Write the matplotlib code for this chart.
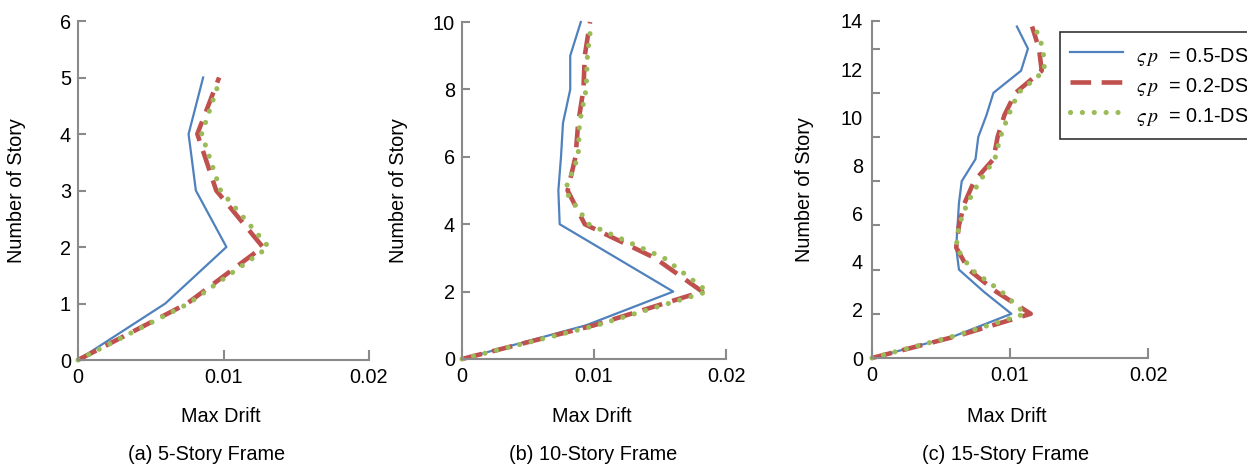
import matplotlib
matplotlib.use('Agg')
import matplotlib.pyplot as plt

# --- dados (deriva máxima por pavimento) ---
pav_5 = [0, 1, 2, 3, 4, 5]
a_05 = [0, 0.0060, 0.0102, 0.0081, 0.0076, 0.0086]
a_02 = [0, 0.0075, 0.0127, 0.0095, 0.0082, 0.0097]
a_01 = [0, 0.0076, 0.0131, 0.0098, 0.0085, 0.0098]

pav_10 = [0, 1, 2, 3, 4, 5, 6, 7, 8, 9, 10]
b_05 = [0, 0.0094, 0.0160, 0.0117, 0.0074, 0.0073, 0.0075, 0.00765, 0.0082, 0.0082, 0.0090]
b_02 = [0, 0.0100, 0.0182, 0.0146, 0.0093, 0.0080, 0.0086, 0.0088, 0.0092, 0.0093, 0.0097]
b_01 = [0, 0.0102, 0.0186, 0.0153, 0.0096, 0.0078, 0.0088, 0.0089, 0.0094, 0.0095, 0.0098]

pav_15 = [0, 1, 2, 3, 4, 5, 6, 7, 8, 9, 10, 11, 12, 13, 14, 15]
c_05 = [0, 0.0060, 0.0101, 0.0081, 0.0063, 0.0061, 0.0062, 0.0063, 0.0065, 0.0075,
        0.0077, 0.0083, 0.0088, 0.0108, 0.0113, 0.0105]
c_02 = [0, 0.0062, 0.0115, 0.0090, 0.0070, 0.0061, 0.0063, 0.0067, 0.0074, 0.0088,
        0.0091, 0.0096, 0.0104, 0.0123, 0.0121, 0.0116]
c_01 = [0, 0.0060, 0.0111, 0.0094, 0.0072, 0.0061, 0.0063, 0.0069, 0.0078, 0.0089,
        0.0093, 0.0099, 0.0106, 0.0125, 0.0124, 0.0118]

rotulos = [r'$\varsigma\,p$  = 0.5-DS', r'$\varsigma\,p$  = 0.2-DS', r'$\varsigma\,p$  = 0.1-DS']
titulos = ['(a) 5-Story Frame', '(b) 10-Story Frame', '(c) 15-Story Frame']
x_ticks = [0, 0.01, 0.02]
x_ticklabels = ['0', '0.01', '0.02']

plt.rcParams['font.family'] = ['Liberation Sans', 'DejaVu Sans']
plt.rcParams['mathtext.fontset'] = 'stix'

W, H = 1247, 468
fig = plt.figure(figsize=(W / 100, H / 100), dpi=100)

FS = 14.3
cinza = '#8a8a8a'
azul, vermelho, verde = '#4F81BD', '#C0504D', '#9BBB59'

# caixas dos eixos em pixels: esquerda, direita, topo, base
caixas = [(78, 369, 21, 360), (462, 726, 22, 359), (872, 1148, 21, 358)]
ylabel_x = [26, 408, 814]   # borda direita do rótulo vertical
titulo_x = [207, 593, 1006]


def novo_eixo(cx):
    l, r, t, b = cx
    ax = fig.add_axes([l / W, 1 - b / H, (r - l) / W, (b - t) / H])
    for s in ['top', 'right']:
        ax.spines[s].set_visible(False)
    for s in ['left', 'bottom']:
        ax.spines[s].set_color(cinza)
        ax.spines[s].set_linewidth(1.5)
    ax.tick_params(axis='both', which='major', direction='in', color=cinza, width=1.5,
                   labelsize=FS, length=6, pad=5)
    ax.tick_params(axis='x', length=7, pad=6)
    ax.set_xlim(0, 0.02)
    ax.set_xticks(x_ticks)
    ax.set_xticklabels(x_ticklabels)
    return ax


def curvas(ax, y, s05, s02, s01):
    ax.plot(s05, y, color=azul, lw=1.6, label=rotulos[0], clip_on=False)
    ax.plot(s02, y, color=vermelho, lw=3.3, dashes=(4.5, 2.3), dash_capstyle='butt',
            label=rotulos[1], clip_on=False)
    ax.plot(s01, y, color=verde, lw=3.7, dashes=(0.01, 2.3), dash_capstyle='round',
            label=rotulos[2], clip_on=False)


dados = [(pav_5, a_05, a_02, a_01), (pav_10, b_05, b_02, b_01), (pav_15, c_05, c_02, c_01)]
eixos = []
for i, (cx, d) in enumerate(zip(caixas, dados)):
    ax = novo_eixo(cx)
    curvas(ax, *d)
    eixos.append(ax)

    l, r, t, b = cx
    ax.set_ylabel('Number of Story', fontsize=FS)
    ax.yaxis.set_label_coords((ylabel_x[i] - l) / (r - l), 0.5)
    ax.set_xlabel('Max Drift', fontsize=FS)
    ax.xaxis.set_label_coords(0.49, (b - 407) / (b - t))
    fig.text(titulo_x[i] / W, 1 - 455 / H, titulos[i], fontsize=FS, ha='center', va='center')

# (a) 0..6
eixos[0].set_ylim(0, 6)
eixos[0].set_yticks(range(0, 7))
# (b) 0..10
eixos[1].set_ylim(0, 10)
eixos[1].set_yticks(range(0, 11, 2))
# (c) marcas a cada 2, rótulos esticados até o topo (como na figura original)
topo_c = 15.25
ax = eixos[2]
ax.set_ylim(0, topo_c)
ax.yaxis.remove_overlapping_locs = False
ax.set_yticks(list(range(0, 15, 2)) + [topo_c])
ax.set_yticklabels([])
ax.set_yticks([k * topo_c / 14 for k in range(0, 15, 2)], minor=True)
ax.set_yticklabels([str(k) for k in range(0, 15, 2)], minor=True)
ax.tick_params(axis='y', which='minor', length=0, labelsize=FS, pad=6.5)

# legenda cortada na borda direita, como no original
leg = ax.legend(loc='upper left', bbox_to_anchor=(1060 / W, 1 - 32 / H),
                bbox_transform=fig.transFigure, fontsize=FS, frameon=True, fancybox=False,
                borderpad=0.5, labelspacing=0.08, handlelength=2.65, handleheight=1.8,
                handletextpad=0.7, borderaxespad=0)
leg.get_frame().set_edgecolor('black')
leg.get_frame().set_linewidth(1.2)

fig.savefig('out.png', dpi=100)
